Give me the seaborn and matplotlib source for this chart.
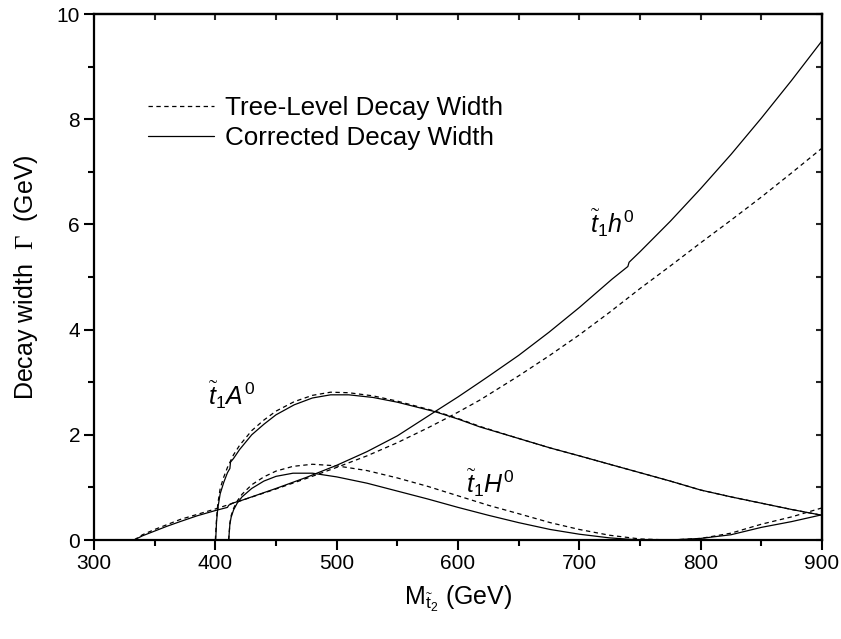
import matplotlib
matplotlib.use("Agg")
import matplotlib.pyplot as plt
import seaborn as sns
import pandas as pd
from matplotlib.ticker import MultipleLocator

# ---------------- data ----------------
h0_x = [333, 340, 350, 360, 371, 385, 400, 410, 411, 414, 420, 435, 450, 475, 500,
        525, 550, 581, 600, 618, 625, 650, 675, 700, 727, 740, 741, 750, 775, 800,
        825, 850, 875, 900]
h0_corr = [0.0, 0.08, 0.17, 0.26, 0.35, 0.46, 0.56, 0.62, 0.66, 0.70, 0.74, 0.86, 0.98,
           1.19, 1.42, 1.68, 1.98, 2.44, 2.72, 3.00, 3.11, 3.51, 3.95, 4.42, 4.96, 5.20,
           5.28, 5.48, 6.06, 6.68, 7.33, 8.02, 8.74, 9.49]
h0_tree_x = [333, 340, 350, 371, 400, 420, 450, 475, 500, 525, 550, 575, 591, 600, 618,
             650, 675, 700, 725, 750, 775, 800, 825, 850, 875, 900]
h0_tree = [0.0, 0.10, 0.20, 0.39, 0.59, 0.74, 0.97, 1.17, 1.38, 1.60, 1.85, 2.13, 2.32,
           2.43, 2.66, 3.12, 3.50, 3.90, 4.33, 4.78, 5.21, 5.65, 6.08, 6.52, 6.98, 7.45]

A0_x = [400.3, 401, 402, 404, 407, 410, 412, 412.5, 415, 420, 430, 440, 450, 465, 480,
        495, 510, 530, 550, 581, 600, 618, 650, 676, 700, 728, 750, 775, 800, 825, 850,
        875, 900]
A0_corr = [0.0, 0.35, 0.60, 0.88, 1.10, 1.28, 1.36, 1.48, 1.55, 1.72, 2.00, 2.20, 2.38,
           2.57, 2.70, 2.76, 2.76, 2.71, 2.62, 2.44, 2.30, 2.15, 1.93, 1.75, 1.60, 1.42,
           1.28, 1.12, 0.95, 0.82, 0.70, 0.58, 0.47]
A0_tree_x = [400, 401, 402, 404, 407, 410, 415, 420, 430, 440, 450, 465, 480, 495, 510,
             530, 550, 581, 600, 618, 650, 676, 700, 728, 750, 775, 800, 825, 850, 875, 900]
A0_tree = [0.0, 0.40, 0.68, 0.98, 1.20, 1.38, 1.62, 1.80, 2.08, 2.28, 2.45, 2.63, 2.75,
           2.81, 2.80, 2.74, 2.64, 2.45, 2.31, 2.16, 1.93, 1.75, 1.60, 1.42, 1.28, 1.12,
           0.95, 0.82, 0.70, 0.58, 0.47]

H0_x = [411, 412, 413, 415, 418, 422, 430, 440, 450, 464, 480, 500, 525, 550, 575, 600,
        625, 650, 676, 700, 725, 750, 775, 800, 825, 850, 875, 900]
H0_corr = [0.0, 0.30, 0.43, 0.57, 0.70, 0.82, 0.98, 1.12, 1.21, 1.27, 1.27, 1.20, 1.08,
           0.93, 0.78, 0.62, 0.47, 0.33, 0.20, 0.11, 0.04, 0.0, 0.0, 0.03, 0.10, 0.24,
           0.35, 0.48]
H0_tree = [0.0, 0.32, 0.46, 0.60, 0.74, 0.87, 1.05, 1.20, 1.31, 1.40, 1.44, 1.41, 1.32,
           1.18, 1.02, 0.84, 0.66, 0.50, 0.33, 0.20, 0.09, 0.02, 0.0, 0.03, 0.13, 0.30,
           0.44, 0.61]

x_ticks = [300, 400, 500, 600, 700, 800, 900]
y_ticks = [0, 2, 4, 6, 8, 10]
legend_labels = ["Tree-Level Decay Width", "Corrected Decay Width"]
# -----------------------------------------------------------------

sns.set_theme(style="white")
plt.rcParams["font.family"] = ["Liberation Sans", "DejaVu Sans"]
plt.rcParams["mathtext.fontset"] = "custom"
plt.rcParams["mathtext.rm"] = "Liberation Serif"
plt.rcParams["mathtext.it"] = "Liberation Sans:italic"
plt.rcParams["mathtext.sf"] = "Liberation Sans"
plt.rcParams["text.color"] = "black"
plt.rcParams["axes.labelcolor"] = "black"

fig = plt.figure(figsize=(8.41, 6.39), dpi=100)
ax = fig.add_axes([94 / 841, 1 - 540 / 639, (822 - 94) / 841, (540 - 14) / 639])

dash = (0, (3.5, 2.8))
lw = 0.9
sns.lineplot(x=h0_tree_x, y=h0_tree, ax=ax, color="black", lw=lw, linestyle=dash,
             sort=False, estimator=None, label=legend_labels[0])
sns.lineplot(x=h0_x, y=h0_corr, ax=ax, color="black", lw=lw, sort=False,
             estimator=None, label=legend_labels[1])
sns.lineplot(x=A0_tree_x, y=A0_tree, ax=ax, color="black", lw=lw, linestyle=dash,
             sort=False, estimator=None)
sns.lineplot(x=A0_x, y=A0_corr, ax=ax, color="black", lw=lw, sort=False, estimator=None)
sns.lineplot(x=H0_x, y=H0_tree, ax=ax, color="black", lw=lw, linestyle=dash,
             sort=False, estimator=None)
sns.lineplot(x=H0_x, y=H0_corr, ax=ax, color="black", lw=lw, sort=False, estimator=None)

ax.set_xlim(300, 900)
ax.set_ylim(0, 10)
ax.set_xticks(x_ticks)
ax.set_yticks(y_ticks)
ax.xaxis.set_minor_locator(MultipleLocator(50))
ax.yaxis.set_minor_locator(MultipleLocator(1))
ax.tick_params(which="major", direction="out", length=7, width=1.5, labelsize=15,
               colors="black", bottom=True, left=True, pad=3)
ax.tick_params(which="minor", direction="out", length=4, width=1.5,
               bottom=True, left=True, colors="black")
for s in ax.spines.values():
    s.set_linewidth(1.6)
    s.set_color("black")

secx = ax.secondary_xaxis("top")
secx.set_xticks(x_ticks)
secx.xaxis.set_minor_locator(MultipleLocator(50))
secx.tick_params(which="both", direction="in", length=4, width=1.5, labeltop=False)
secx.spines["top"].set_linewidth(1.6)
secy = ax.secondary_yaxis("right")
secy.set_yticks(y_ticks)
secy.yaxis.set_minor_locator(MultipleLocator(1))
secy.tick_params(which="both", direction="in", length=4, width=1.5, labelright=False)
secy.spines["right"].set_linewidth(1.6)

ax.set_xlabel(r"M$_{\tilde{\mathsf{t}}_{\mathsf{2}}}$ (GeV)", fontsize=18, labelpad=8)
ax.set_ylabel(r"Decay width  $\mathrm{\Gamma}$  (GeV)", fontsize=18, labelpad=12)

ax.text(394, 2.57, r"$\tilde{t}_{\mathsf{1}}A^{\mathsf{0}}$", fontsize=18)
ax.text(607, 0.90, r"$\tilde{t}_{\mathsf{1}}H^{\mathsf{0}}$", fontsize=18)
ax.text(709, 5.84, r"$\tilde{t}_{\mathsf{1}}h^{\mathsf{0}}$", fontsize=18)

leg = ax.legend(loc="upper left", bbox_to_anchor=(148 / 841, 1 - 96 / 639),
                bbox_transform=fig.transFigure, frameon=False, fontsize=18.7,
                handlelength=2.55, handletextpad=0.4, borderpad=0, borderaxespad=0,
                labelspacing=0.25)
for t in leg.get_texts():
    t.set_color("black")

fig.savefig("out.png", dpi=100)
